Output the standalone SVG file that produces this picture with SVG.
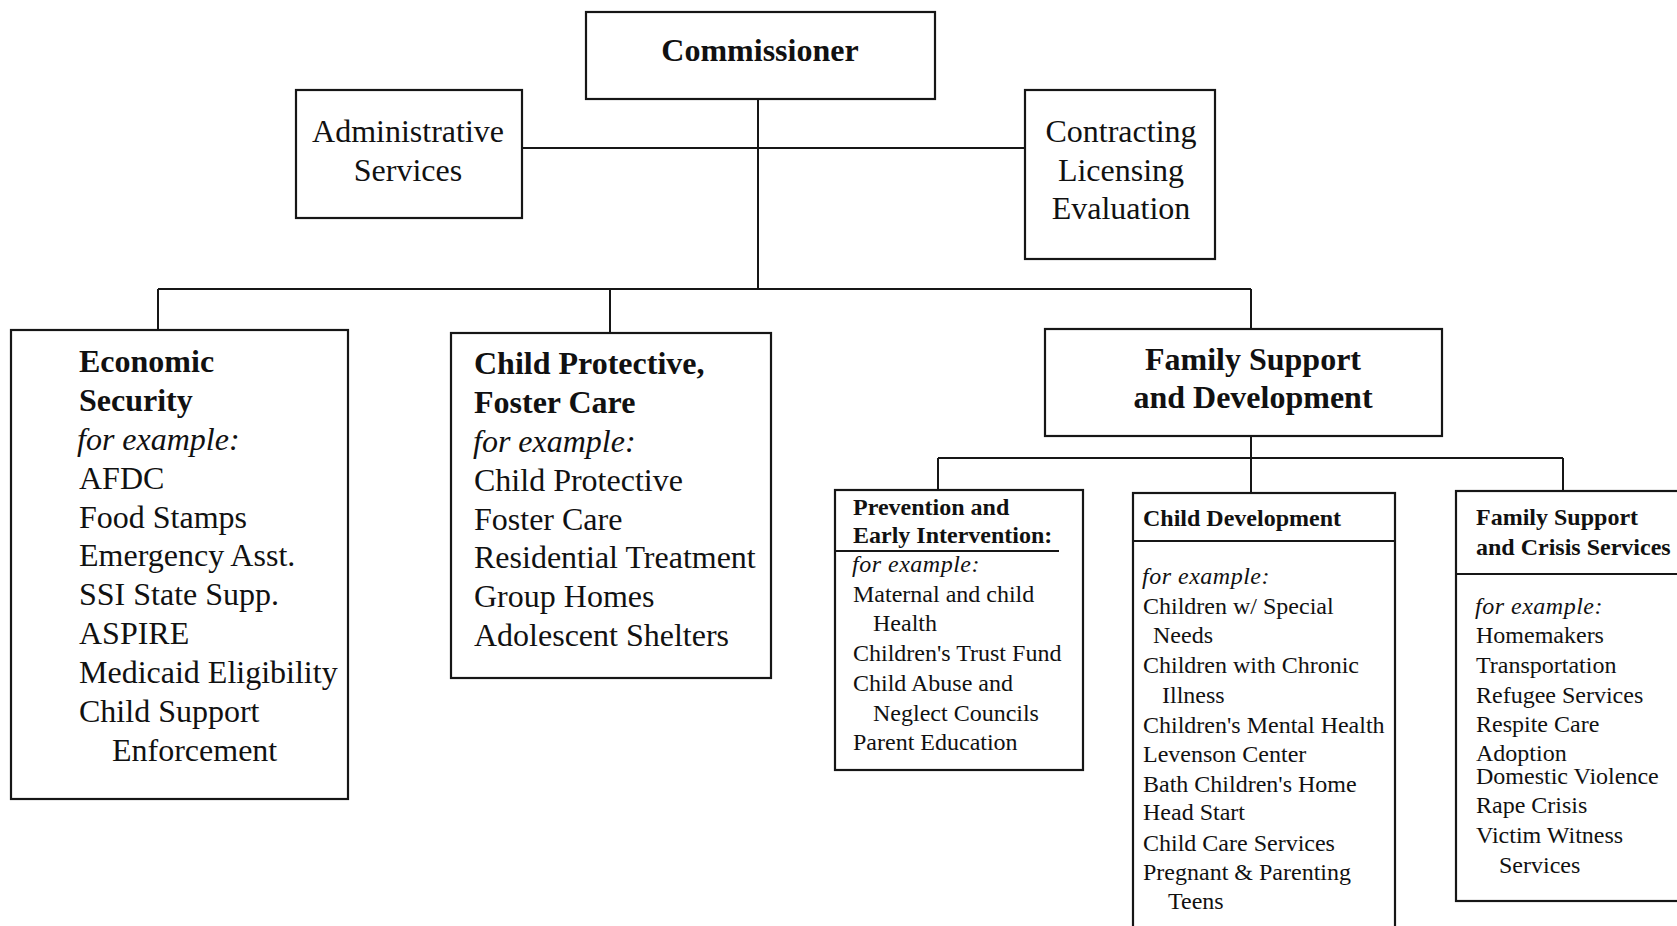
<svg xmlns="http://www.w3.org/2000/svg" width="1677" height="926" viewBox="0 0 1677 926">
  <style>
    .box { fill: #fff; stroke: #161616; stroke-width: 2.2; }
    .sep { stroke: #161616; stroke-width: 2; }
    .link { stroke: #161616; stroke-width: 2; fill: none; }
    text { font-family: "Liberation Serif", "Times New Roman", serif; fill: #111; }
    .big { font-size: 32px; }
    .small { font-size: 24px; }
    .b { font-weight: bold; }
    .i { font-style: italic; }
    .c { text-anchor: middle; }
  </style>
  <rect width="1677" height="926" fill="#fff"/>

  <!-- connectors -->
  <g id="connectors">
    <path class="link" d="M758 99 V289"/>
    <path class="link" d="M522 148 H1025"/>
    <path class="link" d="M158 289 H1251"/>
    <path class="link" d="M158 289 V330"/>
    <path class="link" d="M610 289 V333"/>
    <path class="link" d="M1251 289 V329"/>
    <path class="link" d="M1251 436 V493"/>
    <path class="link" d="M938 458 H1563"/>
    <path class="link" d="M938 458 V490"/>
    <path class="link" d="M1563 458 V491"/>
  </g>

  <!-- top level -->
  <g id="commissioner">
    <rect class="box" x="586" y="12" width="349" height="87"/>
    <text class="big b c" x="760" y="61">Commissioner</text>
  </g>

  <g id="administrative-services">
    <rect class="box" x="296" y="90" width="226" height="128"/>
    <text class="big c" x="408" y="142">Administrative</text>
    <text class="big c" x="408" y="181">Services</text>
  </g>

  <g id="contracting">
    <rect class="box" x="1025" y="90" width="190" height="169"/>
    <text class="big c" x="1121" y="142">Contracting</text>
    <text class="big c" x="1121" y="181">Licensing</text>
    <text class="big c" x="1121" y="219">Evaluation</text>
  </g>

  <!-- divisions -->
  <g id="economic-security">
    <rect class="box" x="11" y="330" width="337" height="469"/>
    <text class="big b" x="79" y="372">Economic</text>
    <text class="big b" x="79" y="411">Security</text>
    <text class="big i" x="77" y="450">for example:</text>
    <text class="big" x="79" y="489">AFDC</text>
    <text class="big" x="79" y="528">Food Stamps</text>
    <text class="big" x="79" y="566">Emergency Asst.</text>
    <text class="big" x="79" y="605">SSI State Supp.</text>
    <text class="big" x="79" y="644">ASPIRE</text>
    <text class="big" x="79" y="683">Medicaid Eligibility</text>
    <text class="big" x="79" y="722">Child Support</text>
    <text class="big" x="112" y="761">Enforcement</text>
  </g>

  <g id="child-protective">
    <rect class="box" x="451" y="333" width="320" height="345"/>
    <text class="big b" x="474" y="374">Child Protective,</text>
    <text class="big b" x="474" y="413">Foster Care</text>
    <text class="big i" x="473" y="452">for example:</text>
    <text class="big" x="474" y="491">Child Protective</text>
    <text class="big" x="474" y="530">Foster Care</text>
    <text class="big" x="474" y="568">Residential Treatment</text>
    <text class="big" x="474" y="607">Group Homes</text>
    <text class="big" x="474" y="646">Adolescent Shelters</text>
  </g>

  <g id="family-support-development">
    <rect class="box" x="1045" y="329" width="397" height="107"/>
    <text class="big b c" x="1253" y="370">Family Support</text>
    <text class="big b c" x="1253" y="408">and Development</text>
  </g>

  <!-- family support sub-units -->
  <g id="prevention">
    <rect class="box" x="835" y="490" width="248" height="280"/>
    <text class="small b" x="853" y="515">Prevention and</text>
    <text class="small b" x="853" y="543">Early Intervention:</text>
    <line class="sep" x1="835" y1="551" x2="1059" y2="551" stroke-width="2.4"/>
    <text class="small i" x="852" y="572" letter-spacing="0.5">for example:</text>
    <text class="small" x="853" y="602">Maternal and child</text>
    <text class="small" x="873" y="631">Health</text>
    <text class="small" x="853" y="661">Children's Trust Fund</text>
    <text class="small" x="853" y="691">Child Abuse and</text>
    <text class="small" x="873" y="721">Neglect Councils</text>
    <text class="small" x="853" y="750">Parent Education</text>
  </g>

  <g id="child-development">
    <rect class="box" x="1133" y="493" width="262" height="460"/>
    <text class="small b" x="1143" y="526">Child Development</text>
    <line class="sep" x1="1133" y1="541" x2="1395" y2="541"/>
    <text class="small i" x="1142" y="584" letter-spacing="0.5">for example:</text>
    <text class="small" x="1143" y="614">Children w/ Special</text>
    <text class="small" x="1153" y="643">Needs</text>
    <text class="small" x="1143" y="673">Children with Chronic</text>
    <text class="small" x="1162" y="703">Illness</text>
    <text class="small" x="1143" y="733">Children's Mental Health</text>
    <text class="small" x="1143" y="762">Levenson Center</text>
    <text class="small" x="1143" y="792">Bath Children's Home</text>
    <text class="small" x="1143" y="820">Head Start</text>
    <text class="small" x="1143" y="851">Child Care Services</text>
    <text class="small" x="1143" y="880">Pregnant &amp; Parenting</text>
    <text class="small" x="1168" y="909">Teens</text>
  </g>

  <g id="family-crisis-services">
    <rect class="box" x="1456" y="491" width="240" height="410"/>
    <text class="small b" x="1476" y="525">Family Support</text>
    <text class="small b" x="1476" y="555">and Crisis Services</text>
    <line class="sep" x1="1456" y1="574" x2="1677" y2="574"/>
    <text class="small i" x="1475" y="614" letter-spacing="0.5">for example:</text>
    <text class="small" x="1476" y="643">Homemakers</text>
    <text class="small" x="1476" y="673">Transportation</text>
    <text class="small" x="1476" y="703">Refugee Services</text>
    <text class="small" x="1476" y="732">Respite Care</text>
    <text class="small" x="1476" y="761">Adoption</text>
    <text class="small" x="1476" y="784">Domestic Violence</text>
    <text class="small" x="1476" y="813">Rape Crisis</text>
    <text class="small" x="1476" y="843">Victim Witness</text>
    <text class="small" x="1499" y="873">Services</text>
  </g>
</svg>
